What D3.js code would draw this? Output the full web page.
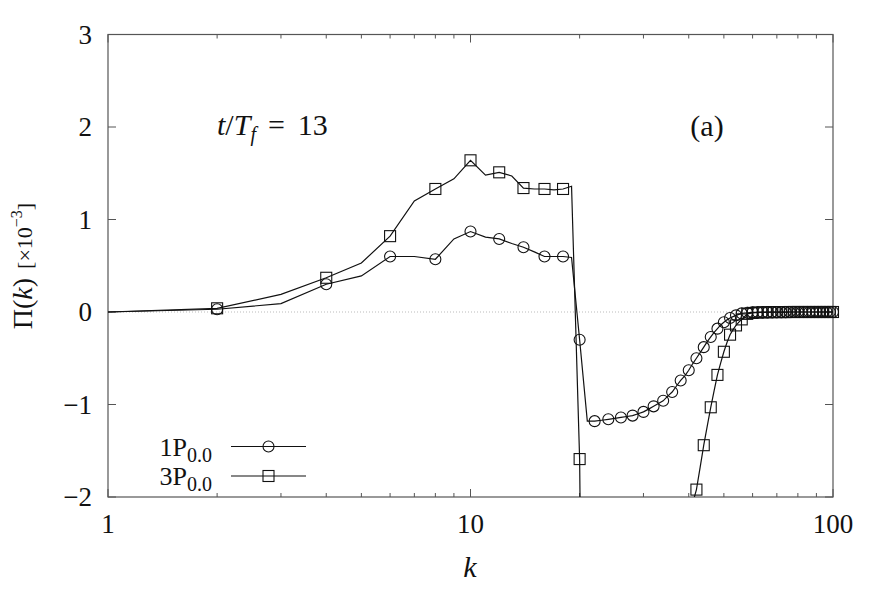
<!DOCTYPE html>
<html>
<head>
<meta charset="utf-8">
<script src="https://cdn.jsdelivr.net/npm/d3@7"></script>
<style>
  body { margin: 0; background: #fff; }
  svg { display: block; }
  text, tspan { font-family: "Liberation Serif", "DejaVu Serif", serif; fill: #111; }
</style>
</head>
<body>
<div class="chart"></div>
<script>
// wavenumbers k = 1..100
var kValues = d3.range(1, 101);

// Pi(k) x 10^-3, run 1P_0.0 (circles)
var pi1P = [
  0.00, 0.03, 0.09, 0.30, 0.39, 0.60, 0.60, 0.57, 0.79, 0.87,
  0.81, 0.79, 0.74, 0.70, 0.65, 0.60, 0.60, 0.60, 0.59, -0.30,
  -1.18, -1.18, -1.17, -1.16, -1.15, -1.14, -1.13, -1.12, -1.10, -1.08,
  -1.05, -1.02, -0.99, -0.96, -0.91, -0.865, -0.80, -0.74, -0.69, -0.63,
  -0.56, -0.50, -0.44, -0.38, -0.32, -0.27, -0.22, -0.18, -0.14, -0.11,
  -0.085, -0.065, -0.05, -0.036, -0.025, -0.015, -0.011, -0.008, -0.006, -0.004,
  -0.003, -0.003, -0.002, -0.002, -0.002, -0.002, -0.001, -0.001, -0.001, -0.001,
  -0.001, -0.001, -0.001, -0.001, 0.000, 0.000, 0.000, 0.000, 0.000, 0.000,
  0.000, 0.000, 0.000, 0.000, 0.000, 0.000, 0.000, 0.000, 0.000, 0.000,
  0.000, 0.000, 0.000, 0.000, 0.000, 0.000, 0.000, 0.000, 0.000, 0.000
];

// Pi(k) x 10^-3, run 3P_0.0 (squares); k = 21..40 falls below the plotted range
var pi3P = [
  0.00, 0.04, 0.19, 0.37, 0.53, 0.82, 1.20, 1.33, 1.44, 1.64,
  1.48, 1.51, 1.47, 1.34, 1.33, 1.33, 1.32, 1.33, 1.36, -1.59,
  -9.6, -9.5, -9.3, -9.1, -8.8, -8.5, -8.2, -7.9, -7.5, -7.1,
  -6.7, -6.3, -5.9, -5.5, -5.1, -4.7, -4.3, -3.9, -3.5, -3.1,
  -2.07, -1.92, -1.68, -1.44, -1.23, -1.03, -0.85, -0.68, -0.55, -0.43,
  -0.33, -0.245, -0.19, -0.145, -0.11, -0.08, -0.05, -0.02, -0.015, -0.01,
  -0.008, -0.006, -0.005, -0.004, -0.003, -0.003, -0.002, -0.002, -0.002, -0.001,
  -0.001, -0.001, -0.001, -0.001, -0.001, 0.000, 0.000, 0.000, 0.000, 0.000,
  0.000, 0.000, 0.000, 0.000, 0.000, 0.000, 0.000, 0.000, 0.000, 0.000,
  0.000, 0.000, 0.000, 0.000, 0.000, 0.000, 0.000, 0.000, 0.000, 0.000
];

var xMajorTicks = [1, 10, 100];
var xMinorTicks = [2, 3, 4, 5, 6, 7, 8, 9, 20, 30, 40, 50, 60, 70, 80, 90];
var yTicks = [-2, -1, 0, 1, 2, 3];

var svgWidth = 886;
var svgHeight = 591;
var margin = { top: 34.5, right: 53, bottom: 94, left: 108 };
var width = svgWidth - margin.left - margin.right;
var height = svgHeight - margin.top - margin.bottom;

var svg = d3.select(".chart")
  .append("svg")
  .attr("width", svgWidth)
  .attr("height", svgHeight);

svg.append("defs").append("clipPath")
  .attr("id", "plotClip")
  .append("rect")
  .attr("width", width)
  .attr("height", height);

var chartGroup = svg.append("g")
  .attr("transform", `translate(${margin.left}, ${margin.top})`);

var xScale = d3.scaleLog().domain([1, 100]).range([0, width]);
var yScale = d3.scaleLinear().domain([-2, 3]).range([height, 0]);

// zero line
chartGroup.append("line")
  .attr("x1", 0).attr("x2", width)
  .attr("y1", yScale(0)).attr("y2", yScale(0))
  .attr("stroke", "#aaa")
  .attr("stroke-width", 0.8)
  .attr("stroke-dasharray", "1,2");

// ticks (inward, on all four sides)
var tickColor = "#555";
function xTicks(vals, len) {
  vals.forEach(function(v) {
    chartGroup.append("line")
      .attr("x1", xScale(v)).attr("x2", xScale(v))
      .attr("y1", height).attr("y2", height - len)
      .attr("stroke", tickColor).attr("stroke-width", 1);
    chartGroup.append("line")
      .attr("x1", xScale(v)).attr("x2", xScale(v))
      .attr("y1", 0).attr("y2", len)
      .attr("stroke", tickColor).attr("stroke-width", 1);
  });
}
xTicks(xMajorTicks, 8);
xTicks(xMinorTicks, 4);

yTicks.forEach(function(v) {
  chartGroup.append("line")
    .attr("x1", 0).attr("x2", 8)
    .attr("y1", yScale(v)).attr("y2", yScale(v))
    .attr("stroke", tickColor).attr("stroke-width", 1);
  chartGroup.append("line")
    .attr("x1", width).attr("x2", width - 8)
    .attr("y1", yScale(v)).attr("y2", yScale(v))
    .attr("stroke", tickColor).attr("stroke-width", 1);
});

// frame
chartGroup.append("rect")
  .attr("width", width)
  .attr("height", height)
  .attr("fill", "none")
  .attr("stroke", "#555")
  .attr("stroke-width", 1.2);

// tick labels
chartGroup.selectAll(".xlab")
  .data(xMajorTicks)
  .enter()
  .append("text")
  .attr("x", d => xScale(d))
  .attr("y", height + 36)
  .style("text-anchor", "middle")
  .style("font-size", "27px")
  .text(d => d);

chartGroup.selectAll(".ylab")
  .data(yTicks)
  .enter()
  .append("text")
  .attr("x", -16)
  .attr("y", d => yScale(d) + 9)
  .style("text-anchor", "end")
  .style("font-size", "27px")
  .text(d => d < 0 ? "\u2212" + Math.abs(d) : d);

// series
var series = [
  { name: "1P", values: pi1P, marker: "circle" },
  { name: "3P", values: pi3P, marker: "square" }
];

var line = d3.line()
  .x((d, i) => xScale(kValues[i]))
  .y(d => yScale(d));

var lineGroup = chartGroup.append("g").attr("clip-path", "url(#plotClip)");

function drawMarker(g, type, x, y) {
  if (type === "circle") {
    g.append("circle")
      .attr("cx", x).attr("cy", y).attr("r", 5.5)
      .attr("fill", "none").attr("stroke", "#111").attr("stroke-width", 1.1);
  } else {
    g.append("rect")
      .attr("x", x - 5.5).attr("y", y - 5.5)
      .attr("width", 11).attr("height", 11)
      .attr("fill", "none").attr("stroke", "#111").attr("stroke-width", 1.1);
  }
}

series.forEach(function(s) {
  lineGroup.append("path")
    .datum(s.values)
    .attr("d", line)
    .attr("fill", "none")
    .attr("stroke", "#111")
    .attr("stroke-width", 1.2);

  var mg = chartGroup.append("g");
  s.values.forEach(function(v, i) {
    var k = kValues[i];
    // markers every second point
    if (k % 2 !== 0) return;
    if (v < -2 || v > 3) return;
    drawMarker(mg, s.marker, xScale(k), yScale(v));
  });
});

// legend
var legendItems = [
  { label: "1P", sub: "0.0", marker: "circle", y: 446.5 },
  { label: "3P", sub: "0.0", marker: "square", y: 476 }
];
legendItems.forEach(function(d) {
  var t = svg.append("text")
    .attr("x", 212)
    .attr("y", d.y + 9)
    .style("text-anchor", "end")
    .style("font-size", "26px");
  t.append("tspan").text(d.label);
  t.append("tspan").attr("dy", 6).style("font-size", "20px").text(d.sub);

  svg.append("line")
    .attr("x1", 231).attr("x2", 306)
    .attr("y1", d.y).attr("y2", d.y)
    .attr("stroke", "#111").attr("stroke-width", 1.2);
  drawMarker(svg, d.marker, 268.5, d.y);
});

// annotations
var ann = svg.append("text")
  .attr("x", 217)
  .attr("y", 135)
  .style("font-size", "30px");
ann.append("tspan").style("font-style", "italic").text("t");
ann.append("tspan").text("/");
ann.append("tspan").style("font-style", "italic").text("T");
ann.append("tspan").style("font-style", "italic").style("font-size", "20px").attr("dy", 6).text("f");
ann.append("tspan").attr("dy", -6).attr("dx", 12).text("=");
ann.append("tspan").attr("dx", 13).text("13");

svg.append("text")
  .attr("x", 707)
  .attr("y", 136)
  .style("text-anchor", "middle")
  .style("font-size", "30px")
  .text("(a)");

// axis labels
svg.append("text")
  .attr("x", 470)
  .attr("y", 577)
  .style("text-anchor", "middle")
  .style("font-size", "30px")
  .style("font-style", "italic")
  .text("k");

var yl = svg.append("text")
  .attr("transform", "translate(32, 266) rotate(-90)")
  .style("text-anchor", "middle")
  .style("font-size", "28px");
yl.append("tspan").text("\u03A0(");
yl.append("tspan").style("font-style", "italic").text("k");
yl.append("tspan").text(")");
yl.append("tspan").attr("dx", 9).style("font-size", "22px").text("[\u00D710");
yl.append("tspan").style("font-size", "16px").attr("dy", -10).text("\u22123");
yl.append("tspan").style("font-size", "22px").attr("dy", 10).text("]");
</script>
</body>
</html>
